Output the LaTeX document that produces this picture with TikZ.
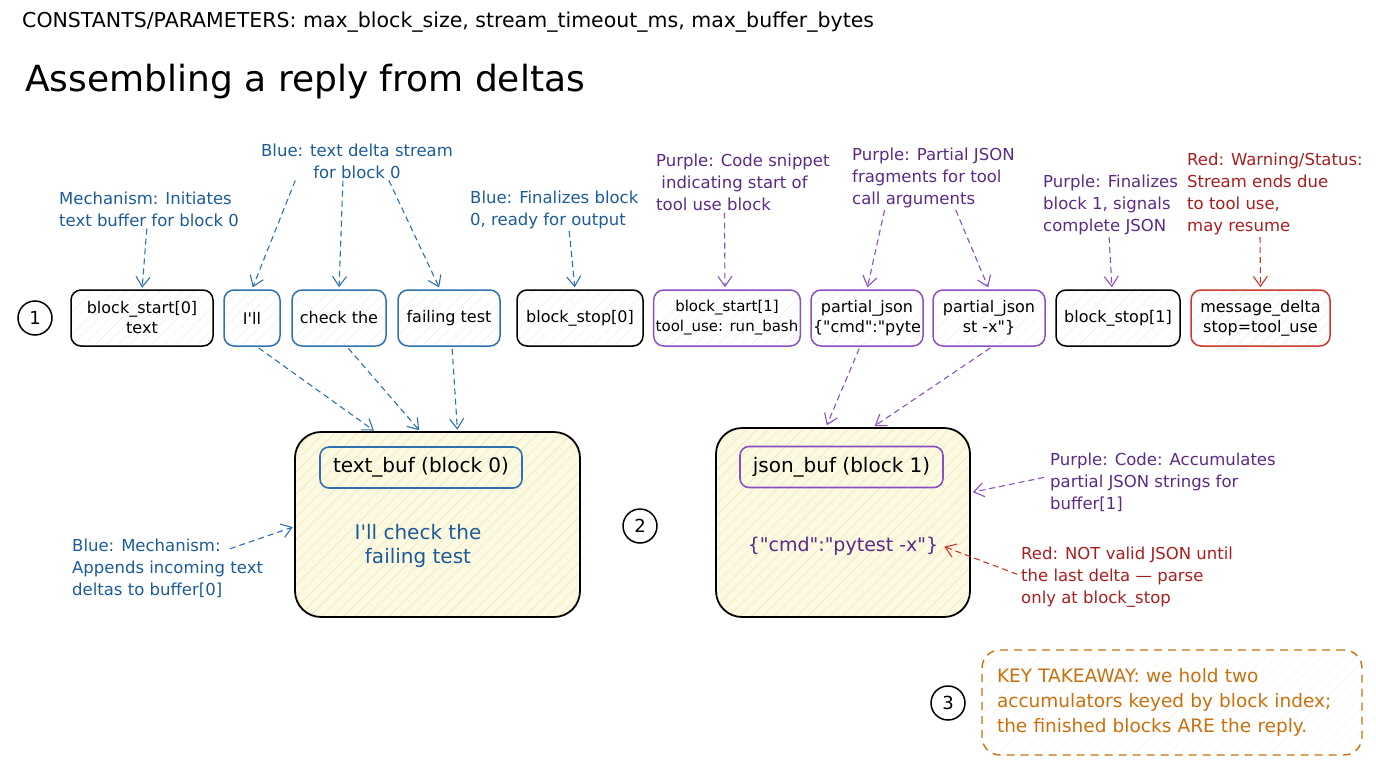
\documentclass[tikz,border=0pt]{standalone}
\usepackage{fontspec}
\setmainfont{DejaVu Sans}[Ligatures=TeXOff]
\usepackage{xcolor}
\usetikzlibrary{arrows.meta,patterns.meta,positioning}

\definecolor{blueink}{HTML}{1D5B98}
\definecolor{blueline}{HTML}{3170B0}
\definecolor{purpleink}{HTML}{5A2A85}
\definecolor{purpleline}{HTML}{8A50C2}
\definecolor{redink}{HTML}{A81E1E}
\definecolor{redline}{HTML}{C8382F}
\definecolor{orangeink}{HTML}{C8700E}
\definecolor{paper}{HTML}{FCF9E2}
\definecolor{hatch}{HTML}{F1E8B8}

\tikzstyle{event} = [draw, rounded corners=10pt, line width=1.5pt, minimum height=56pt, inner sep=2pt, align=center, font=\fontsize{16}{20}\selectfont, pattern={Lines[angle=45,distance=8pt,line width=0.5pt]}, pattern color=black!7]
\tikzstyle{buffer} = [draw, line width=1.8pt, rounded corners=26pt, preaction={fill=paper}, pattern={Lines[angle=45,distance=8pt,line width=0.6pt]}, pattern color=hatch]
\tikzstyle{head} = [draw, line width=1.6pt, rounded corners=9pt, minimum height=41pt, font=\fontsize{20}{24}\selectfont]
\tikzstyle{marker} = [draw, circle, line width=1.5pt, minimum size=34pt, inner sep=0pt, font=\fontsize{18}{20}\selectfont]
\tikzstyle{note} = [align=left, inner sep=0pt, font=\fontsize{16.5}{22}\selectfont]
\tikzstyle{arrow} = [line width=1.1pt, dash pattern=on 6pt off 4pt, ->, shorten <=2pt, shorten >=2pt]

\begin{document}
\begin{tikzpicture}[x=1pt, y=-1pt, >={Straight Barb[length=10pt,width=14pt]}]
  \useasboundingbox (0,0) rectangle (1376,768);

  \node[anchor=west, inner sep=0pt, font=\fontsize{20.5}{24}\selectfont] (params) at (22,22) {CONSTANTS/PARAMETERS: max\_block\_size, stream\_timeout\_ms, max\_buffer\_bytes};
  \node[anchor=west, inner sep=0pt, font=\fontsize{36}{42}\selectfont] (title) at (25,82) {Assembling a reply from deltas};

  % event stream
  \node[marker] (m1) at (35,318) {1};
  \node[event, minimum width=142pt] (bs0) at (142,318) {block\_start[0]\\text};
  \node[event, draw=blueline, pattern color=blueline!12, minimum width=56pt] (tI) at (252,318) {I'll};
  \node[event, draw=blueline, pattern color=blueline!12, minimum width=94pt] (tcheck) at (339,318) {check the};
  \node[event, draw=blueline, pattern color=blueline!12, minimum width=102pt] (tfail) at (449,318) {failing test};
  \node[event, minimum width=126pt] (bstop0) at (580,318) {block\_stop[0]};
  \node[event, draw=purpleline, pattern color=purpleline!12, minimum width=146pt, font=\fontsize{15}{20}\selectfont] (bs1) at (727,318) {block\_start[1]\\tool\_use: run\_bash};
  \node[event, draw=purpleline, pattern color=purpleline!12, minimum width=112pt] (pj1) at (867,318) {partial\_json\\\{"cmd":"pyte};
  \node[event, draw=purpleline, pattern color=purpleline!12, minimum width=112pt] (pj2) at (989,318) {partial\_json\\st -x"\}};
  \node[event, minimum width=124pt] (bstop1) at (1118,318) {block\_stop[1]};
  \node[event, draw=redline, pattern color=redline!12, minimum width=139pt] (mdelta) at (1260.5,318) {message\_delta\\stop=tool\_use};

  % notes above the stream
  \node[note, text=blueink, anchor=west] (ann_init) at (59,209) {Mechanism: Initiates\\text buffer for block 0};
  \node[note, text=blueink, align=center] (ann_delta) at (357,161) {Blue: text delta stream\\for block 0};
  \node[note, text=blueink, anchor=west] (ann_stop0) at (470,210) {Blue: Finalizes block\\0, ready for output};
  \node[note, text=purpleink, anchor=west] (ann_bs1) at (656,182) {Purple: Code snippet\\\ indicating start of\\tool use block};
  \node[note, text=purpleink, anchor=west] (ann_pj) at (852,178) {Purple: Partial JSON\\fragments for tool\\call arguments};
  \node[note, text=purpleink, anchor=west] (ann_stop1) at (1043,205) {Purple: Finalizes\\block 1, signals\\complete JSON};
  \node[note, text=redink, anchor=west] (ann_status) at (1187,194) {Red: Warning/Status:\\Stream ends due\\to tool use,\\may resume};

  \draw[arrow, blueline] ([xshift=88pt]ann_init.south west) -- (bs0.north);
  \draw[arrow, blueline] ([xshift=-61pt]ann_delta.south) -- (tI.north);
  \draw[arrow, blueline] ([xshift=-14pt]ann_delta.south) -- (tcheck.north);
  \draw[arrow, blueline] ([xshift=31pt]ann_delta.south) -- ([xshift=-9pt]tfail.north);
  \draw[arrow, blueline] ([xshift=99pt]ann_stop0.south west) -- ([xshift=-5pt]bstop0.north);
  \draw[arrow, purpleline] ([xshift=68.5pt]ann_bs1.south west) -- ([xshift=-2pt]bs1.north);
  \draw[arrow, purpleline] ([xshift=33pt]ann_pj.south west) -- (pj1.north);
  \draw[arrow, purpleline] ([xshift=103pt]ann_pj.south west) -- (pj2.north);
  \draw[arrow, purpleline] ([xshift=66pt]ann_stop1.south west) -- ([xshift=-6pt]bstop1.north);
  \draw[arrow, redline] ([xshift=73pt]ann_status.south west) -- (mdelta.north);

  % accumulators
  \node[buffer, minimum width=285pt, minimum height=185pt] (tbuf) at (437.5,524.5) {};
  \node[head, draw=blueline, minimum width=202pt] (tbufhead) at (421,467.5) {text\_buf (block 0)};
  \node[note, text=blueink, align=center, font=\fontsize{20}{24}\selectfont] (tbody) at (418,546) {I'll check the\\failing test};

  \node[marker] (m2) at (640,526) {2};
  \node[buffer, minimum width=254pt, minimum height=189pt] (jbuf) at (843,522.5) {};
  \node[head, draw=purpleline, minimum width=203pt] (jbufhead) at (841.5,467) {json\_buf (block 1)};
  \node[note, text=purpleink, font=\fontsize{19}{24}\selectfont] (jbody) at (843,546) {\{"cmd":"pytest -x"\}};

  \draw[arrow, blueline] ([xshift=5pt]tI.south) -- ([xshift=-62pt]tbuf.north);
  \draw[arrow, blueline] ([xshift=8pt]tcheck.south) -- ([xshift=-17pt]tbuf.north);
  \draw[arrow, blueline] ([xshift=3pt]tfail.south) -- ([xshift=20pt]tbuf.north);
  \draw[arrow, purpleline] ([xshift=-7pt]pj1.south) -- ([xshift=-17pt]jbuf.north);
  \draw[arrow, purpleline] ([xshift=3pt]pj2.south) -- ([xshift=30pt]jbuf.north);

  % notes beside the accumulators
  \node[note, text=blueink, anchor=west] (ann_append) at (72,568) {Blue: Mechanism:\\Appends incoming text\\deltas to buffer[0]};
  \node[note, text=purpleink, anchor=west] (ann_accum) at (1050,482) {Purple: Code: Accumulates\\partial JSON strings for\\buffer[1]};
  \node[note, text=redink, anchor=west] (ann_valid) at (1021,577) {Red: NOT valid JSON until\\the last delta — parse\\only at block\_stop};

  \draw[arrow, blueline] ([xshift=156pt, yshift=-11pt]ann_append.north west) -- ([yshift=-2pt]tbuf.west);
  \draw[arrow, purpleline] ([xshift=-4pt, yshift=5pt]ann_accum.west) -- ([yshift=30pt]jbuf.east);
  \draw[arrow, redline] ([xshift=-2pt, yshift=2pt]ann_valid.west) -- ([xshift=4pt]jbody.east);

  % takeaway
  \node[marker] (m3) at (948,703) {3};
  \node[draw=orangeink, line width=1.4pt, dash pattern=on 8pt off 6pt, rounded corners=18pt, minimum width=380pt, minimum height=105pt, text width=350pt, align=left, text=orangeink, font=\fontsize{18.5}{25}\selectfont, pattern={Lines[angle=45,distance=8pt,line width=0.5pt]}, pattern color=orangeink!10] (takeaway) at (1172,702.5) {KEY TAKEAWAY: we hold two\\accumulators keyed by block index;\\the finished blocks ARE the reply.};
\end{tikzpicture}
\end{document}
